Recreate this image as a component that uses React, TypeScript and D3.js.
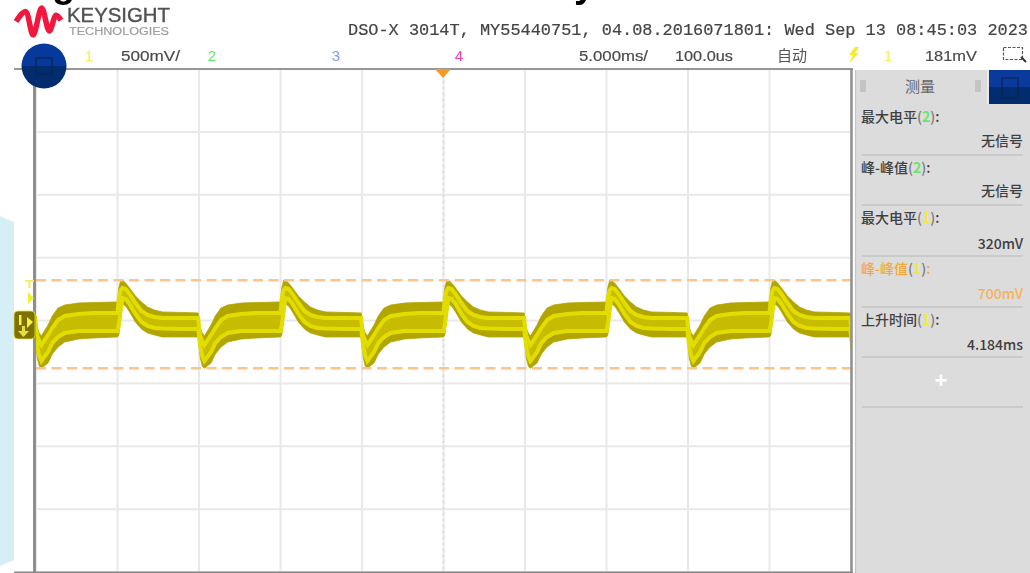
import React from "react";
import * as d3 from "d3";

// Waveform, one 10 ms cycle (values in mV, phase in ms after the rising edge)
const phaseMs = [0, 0.08, 0.2, 0.3, 0.5, 0.74, 1.1, 1.47, 1.84, 2.27, 2.76, 4, 4.95, 5, 5.08, 5.2, 5.33, 5.74, 6, 6.35, 6.76, 7.6, 8.5, 9.95];
const envelopeHigh = [147, 258, 322, 322, 298, 258, 195, 147, 107, 83, 68, 64, 60, 4, -60, -99, -123, -36, 36, 99, 123, 139, 143, 147];
const envelopeLow = [-131, -115, 20, 131, 115, 68, -12, -68, -99, -115, -131, -131, -131, -195, -298, -362, -380, -338, -266, -211, -171, -147, -139, -131];
const traceUpper = [60, 179, 242, 258, 250, 211, 139, 76, 44, 28, 20, 20, 20, -52, -123, -163, -195, -115, -60, 4, 36, 52, 60, 60];
const traceLower = [-83, -36, 83, 179, 171, 131, 52, -12, -44, -60, -64, -68, -68, -123, -211, -282, -322, -250, -179, -131, -99, -83, -83, -83];
const risingEdgesMs = [-30, -20, -10, 0, 10, 20];

// Scope settings
const xDivisions = d3.range(-25, 30, 5);
const yDivisions = d3.range(-2000, 2500, 500);
const cursorLevelsMv = [320, -380];
const timeDomain: [number, number] = [-25, 25];
const voltDomain: [number, number] = [2000, -2000];

const channels = [
  { label: "1", color: "#f4f04a", x: 89 },
  { label: "2", color: "#66e866", x: 212 },
  { label: "3", color: "#7f9cf5", x: 336 },
  { label: "4", color: "#ef3fc0", x: 459 },
];
const headerLine = "DSO-X 3014T, MY55440751, 04.08.2016071801: Wed Sep 13 08:45:03 2023";

const measureLabels = ["最大电平", "峰-峰值", "最大电平", "峰-峰值", "上升时间"];
const measureChannels = ["2", "2", "1", "1", "1"];
const measureValues = ["无信号", "无信号", "320mV", "700mV", "4.184ms"];
const measureLabelY = [117, 168, 218, 269, 320];
const measureValueY = [141, 191, 244, 294, 345];
const measureRuleY = [155, 205, 256, 307, 357, 407];

const logoStops = [0, 0.21, 0.38, 0.57, 0.74, 0.89, 1];
const logoWave = [0.5, 0.13, 1, 0, 0.85, 0.27, 0.45];

const x = d3.scaleLinear().domain(timeDomain).range([36, 851]);
const y = d3.scaleLinear().domain(voltDomain).range([69, 572]);
const logoX = d3.scaleLinear().domain([0, 1]).range([16, 61]);
const logoY = d3.scaleLinear().domain([0, 1]).range([8, 35]);

const cyclePoints = risingEdgesMs.flatMap((edge) =>
  phaseMs.map((p, i) => ({
    t: edge + p,
    hi: envelopeHigh[i],
    lo: envelopeLow[i],
    a: traceUpper[i],
    b: traceLower[i],
  }))
);

const bandPath = d3.area<any>().x((d) => x(d.t)).y0((d) => y(d.lo)).y1((d) => y(d.hi))(cyclePoints) || "";
const midPath = d3.area<any>().x((d) => x(d.t)).y0((d) => y(d.b)).y1((d) => y(d.a))(cyclePoints) || "";
const upperPath = d3.line<any>().x((d) => x(d.t)).y((d) => y(d.a))(cyclePoints) || "";
const lowerPath = d3.line<any>().x((d) => x(d.t)).y((d) => y(d.b))(cyclePoints) || "";
const logoPath =
  d3.line<number>().x((_, i) => logoX(logoStops[i])).y((d) => logoY(d)).curve(d3.curveCatmullRom)(logoWave) || "";

const sans = "'Liberation Sans', Arial, sans-serif";
const cjk = "'Noto Sans CJK SC', 'Liberation Sans', sans-serif";

export default function App() {
  return (
    <svg
      width={1030}
      height={573}
      viewBox="0 0 1030 573"
      style={{ position: "fixed", left: 0, top: 0, display: "block", background: "#fff" }}
    >
      <defs>
        <clipPath id="plot">
          <rect x={36} y={69} width={815} height={503} />
        </clipPath>
        <linearGradient id="disc" x1="0" x2="0" y1="0" y2="1">
          <stop offset="0.5" stopColor="#07399c" />
          <stop offset="0.5" stopColor="#012c6e" />
        </linearGradient>
      </defs>

      <polygon points="0,216 14,222 14,560 0,566" fill="#d6eff6" />
      <g style={{ filter: "blur(0.75px)" }}>
        {/* clipped headline descenders */}
        <text x={52} y={-3} fontSize={38} fontWeight={700} fontFamily={sans} fill="#000">g</text>
        <text x={191} y={-5} fontSize={30} fontWeight={700} fontFamily={sans} fill="#000">,</text>
        <text x={574} y={-3} fontSize={38} fontWeight={700} fontFamily={sans} fill="#000">y</text>

        {/* Logo */}
        <path d={logoPath} fill="none" stroke="#f2173d" strokeWidth={5.5} strokeLinejoin="round" />
        <text x={67} y={22} fontSize={19.5} fontFamily={sans} fill="#505050" stroke="#505050" strokeWidth={0.35} textLength={103} lengthAdjust="spacingAndGlyphs">KEYSIGHT</text>
        <text x={69} y={35} fontSize={10} fontFamily={sans} fill="#9f9f9f" stroke="#9f9f9f" strokeWidth={0.2} textLength={100} lengthAdjust="spacingAndGlyphs">TECHNOLOGIES</text>

        {/* Header */}
        <text x={348} y={35} fontSize={16.5} fontFamily="'Liberation Mono', monospace" fill="#444" stroke="#444" strokeWidth={0.2} textLength={680} lengthAdjust="spacingAndGlyphs">{headerLine}</text>
        {channels.map((c) => (
          <text key={c.label} x={c.x} y={61} fontSize={15} fontFamily={sans} fill={c.color} textAnchor="middle">{c.label}</text>
        ))}
        <g fill="#4a4a4a" stroke="#4a4a4a" strokeWidth={0.2} fontFamily={sans} fontSize={15.5}>
          <text x={121} y={61} textLength={59} lengthAdjust="spacingAndGlyphs">500mV/</text>
          <text x={579} y={61} textLength={69} lengthAdjust="spacingAndGlyphs">5.000ms/</text>
          <text x={675} y={61} textLength={58} lengthAdjust="spacingAndGlyphs">100.0us</text>
          <text x={925} y={61} textLength={52} lengthAdjust="spacingAndGlyphs">181mV</text>
        </g>
        <text x={777} y={61} fontSize={15} fontFamily={cjk} fill="#555">自动</text>
        <polygon points="855,47 849,55 853,55 849,63 859,53 855,53 859,47" fill="#f5ea2d" />
        <text x={888} y={61} fontSize={15} fontFamily={sans} fill="#f4f04a" textAnchor="middle">1</text>
        <rect x={1003.5} y={47.5} width={19} height={12} fill="none" stroke="#555" strokeWidth={1.2} strokeDasharray="3 1.5" />
        <path d="M1021 57l5 5" stroke="#333" strokeWidth={2} />

        {/* Graticule */}
        <g clipPath="url(#plot)">
          {xDivisions.map((t) => (
            <line key={t} x1={x(t)} x2={x(t)} y1={69} y2={572} stroke="#e9e9e9" strokeWidth={2} />
          ))}
          {yDivisions.map((v) => (
            <line key={v} x1={36} x2={851} y1={y(v)} y2={y(v)} stroke="#e9e9e9" strokeWidth={2} />
          ))}
          <line x1={x(0)} x2={x(0)} y1={75} y2={572} stroke="#dcdcdc" strokeWidth={2} strokeDasharray="2 4" />
        </g>

        {/* Waveform */}
        <g clipPath="url(#plot)">
          <path d={bandPath} fill="#b2a500" stroke="#b2a500" strokeWidth={0.8} />
          <path d={midPath} fill="#c8bc00" />
          <g style={{ filter: "blur(0.7px)" }}>
            <path d={upperPath} fill="none" stroke="#e2dd00" strokeWidth={4} />
            <path d={lowerPath} fill="none" stroke="#e2dd00" strokeWidth={4} />
          </g>
        </g>

        {/* Cursors */}
        {cursorLevelsMv.map((v) => (
          <line key={v} x1={36} x2={851} y1={y(v)} y2={y(v)} stroke="#fdc48a" strokeWidth={2.4} strokeDasharray="10 5.5" />
        ))}

        {/* Frame */}
        <line x1={14} x2={853} y1={69} y2={69} stroke="#777" strokeWidth={1.6} />
        <line x1={34.5} x2={34.5} y1={69} y2={572} stroke="#8f8f8f" strokeWidth={3} />
        <line x1={851.5} x2={851.5} y1={69} y2={572} stroke="#8f8f8f" strokeWidth={2.5} />
        <line x1={14} x2={853} y1={572.3} y2={572.3} stroke="#888" strokeWidth={1.5} />
        <polygon points="435,69 451,69 443,78" fill="#f59a23" />

        {/* Side markers */}
        <rect x={25} y={280} width={9} height={1.8} fill="#f4ef50" />
        <rect x={28.5} y={280} width={2} height={8} fill="#f4ef50" />
        <polygon points="28,292 34,298 28,304" fill="#f2ee30" />
        <rect x={14} y={311} width={21} height={28} rx={4} fill="#7d7200" stroke="#e8e040" strokeWidth={0.8} />
        <rect x={19} y={315} width={2.5} height={10} fill="#f5f04a" />
        <polygon points="27,317 33,322 27,328" fill="#f5f04a" />
        <rect x={22} y={326} width={3} height={6} fill="#e8e040" />
        <polygon points="18,331 29,331 23.5,337" fill="#e8e040" />

        {/* Measurement panel */}
        <rect x={855} y={70} width={175} height={503} fill="#dcdcdc" />
        <line x1={855.5} x2={855.5} y1={70} y2={573} stroke="#c4c4c4" strokeWidth={1.2} />
        <rect x={989} y={70} width={41} height={34} fill="#0a3a9c" />
        <rect x={989} y={87} width={41} height={17} fill="#012c6e" />
        <rect x={1002} y={78} width={16} height={20} fill="none" stroke="#0c2550" strokeWidth={1.2} />
        <line x1={988} x2={988} y1={70} y2={104} stroke="#f0f0f0" strokeWidth={1.5} />
        <text x={920} y={92} fontSize={15} fontFamily={cjk} fill="#666" textAnchor="middle">测量</text>
        <rect x={860} y={80} width={6} height={12} fill="#c4c4c4" />
        <rect x={975} y={80} width={6} height={12} fill="#c4c4c4" />

        {measureLabels.map((label, i) => {
          const highlighted = i === 3;
          const color = highlighted ? "#f4a93e" : "#3f3f3f";
          const chColor = measureChannels[i] === "2" ? "#66e866" : "#f2ea3a";
          return (
            <g key={i} fontFamily={cjk} fontSize={14} fontWeight={500}>
              <text x={861} y={measureLabelY[i] + 5} fill={color}>
                {label}
                <tspan fill="#777">(</tspan>
                <tspan fill={chColor} fontWeight={700}>{measureChannels[i]}</tspan>
                <tspan fill="#777">)</tspan>:
              </text>
              <text x={1023} y={measureValueY[i] + 5} fill={highlighted ? "#f7b15a" : "#3f3f3f"} textAnchor="end">{measureValues[i]}</text>
            </g>
          );
        })}
        {measureRuleY.map((ry) => (
          <line key={ry} x1={862} x2={1023} y1={ry} y2={ry} stroke="#c4c4c4" strokeWidth={1.4} />
        ))}
        <text x={941} y={388} fontSize={22} fontFamily={sans} fontWeight={700} fill="#fff" textAnchor="middle">+</text>

        {/* Disc */}
        <circle cx={44} cy={66} r={22.5} fill="url(#disc)" />
        <rect x={36} y={58} width={16} height={16} fill="none" stroke="#0c2550" strokeWidth={1.2} />
      </g>
    </svg>
  );
}
